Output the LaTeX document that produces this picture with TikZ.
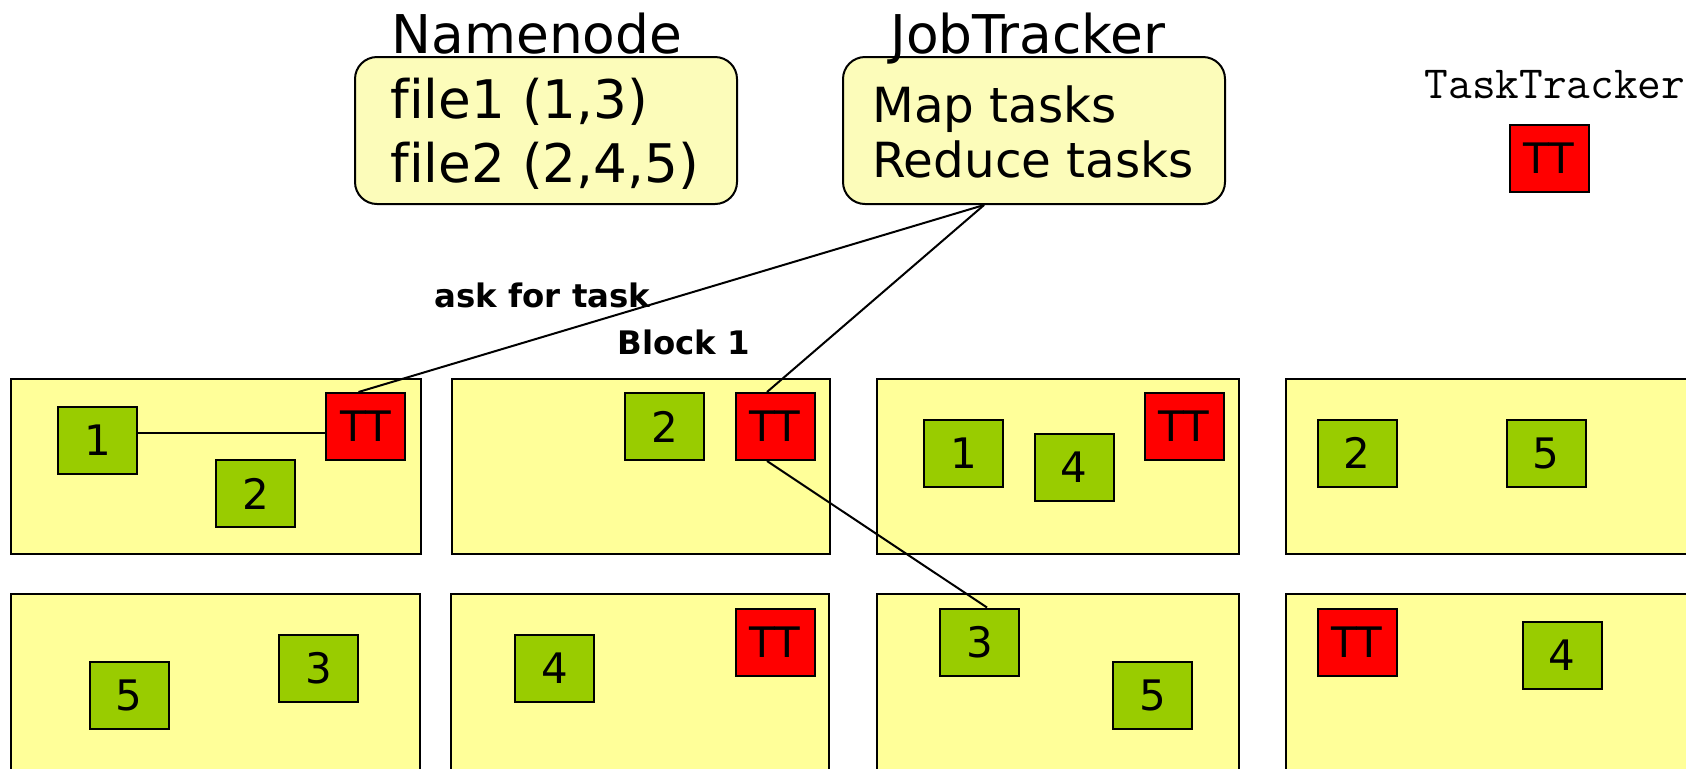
\documentclass[tikz,border=0pt]{standalone}
\usepackage{fontspec}
\setmainfont{DejaVu Sans}[Ligatures=NoCommon]
\usetikzlibrary{calc}
\definecolor{hostyellow}{HTML}{FFFF99}
\definecolor{infoyellow}{HTML}{FCFCBA}
\definecolor{blkgreen}{HTML}{99CC00}
\definecolor{ttred}{HTML}{FF0000}
\begin{document}
\begin{tikzpicture}[x=0.5pt,y=-0.5pt,
  host/.style={draw=black, line width=1pt, fill=hostyellow},
  blk/.style={draw=black, line width=1pt, fill=blkgreen, minimum width=39.5pt, minimum height=33.5pt, inner sep=0pt, font=\fontsize{21}{21}\selectfont},
  ttbox/.style={blk, fill=ttred},
  infobox/.style={draw=black, line width=1pt, fill=infoyellow, rounded corners=11pt, minimum width=191pt, minimum height=73.5pt, inner sep=0pt},
  title/.style={inner sep=0pt, anchor=base, font=\fontsize{26.7}{26.7}\selectfont},
  infotext/.style={inner sep=0pt, anchor=base west},
  boldlbl/.style={inner sep=0pt, anchor=base, font=\fontsize{16.2}{16.2}\selectfont\bfseries},
  conn/.style={line width=1pt}]
\useasboundingbox (0,0) rectangle (1686,768);
\clip (0,0) rectangle (1686,768);

% top info boxes
\node[infobox] (nn) at (546,130.5) {};
\node[infobox] (jt) at (1034,130.5) {};
\node[title] (nntitle) at (537,53) {Namenode};
\node[title] (jttitle) at (1028,53) {JobTracker};
\node[infotext, font=\fontsize{26.6}{26.6}\selectfont] (f1) at (390,118) {file1 (1,3)};
\node[infotext, font=\fontsize{26.6}{26.6}\selectfont] (f2) at (390,182) {file2 (2,4,5)};
\node[infotext, font=\fontsize{24.2}{24.2}\selectfont] (mt) at (872,122) {Map tasks};
\node[infotext, font=\fontsize{24.2}{24.2}\selectfont] (rt) at (872,177) {Reduce tasks};

% legend
\node[inner sep=0pt, anchor=base, font=\fontsize{23}{23}\selectfont\ttfamily] (ttlegend) at (1555,98) {TaskTracker};
\node[ttbox] (ttl) at (1549,158) {TT};

% hosts
\draw[host] (11,379) rectangle (421,554);
\draw[host] (452,379) rectangle (830,554);
\draw[host] (877,379) rectangle (1239,554);
\draw[host] (1286,379) rectangle (1700,554);
\draw[host] (11,594) rectangle (420,790);
\draw[host] (451,594) rectangle (829,790);
\draw[host] (877,594) rectangle (1239,790);
\draw[host] (1286,594) rectangle (1700,790);

% blocks row 1
\node[blk] (a1) at (97.5,440) {1};
\node[blk] (a2) at (255.5,493.5) {2};
\node[ttbox] (tta) at (365.5,426.5) {TT};
\node[blk] (b2) at (664.5,426.5) {2};
\node[ttbox] (ttb) at (775,426.5) {TT};
\node[blk] (c1) at (963.5,453) {1};
\node[blk] (c4) at (1074,467) {4};
\node[ttbox] (ttc) at (1184,426.5) {TT};
\node[blk] (d2) at (1357,453) {2};
\node[blk] (d5) at (1546,453) {5};
% blocks row 2
\node[blk] (e5) at (129,695) {5};
\node[blk] (e3) at (318.5,668.5) {3};
\node[blk] (f4) at (554.5,668.5) {4};
\node[ttbox] (ttf) at (775,642) {TT};
\node[blk] (g3) at (979.5,642) {3};
\node[blk] (g5) at (1152.5,695) {5};
\node[ttbox] (tth) at (1357,642) {TT};
\node[blk] (h4) at (1562,655) {4};

% labels
\node[boldlbl] (ask) at (542.5,307) {ask for task};
\node[boldlbl] (blk1) at (684,354) {Block 1};

% connectors
\coordinate (jtp) at ($(jt.south west)!0.37!(jt.south east)$);
\draw[conn] (jtp) -- ([xshift=-3.5pt]tta.north);
\draw[conn] (jtp) -- ([xshift=-4pt]ttb.north);
\draw[conn] ([xshift=-4pt]ttb.south) -- ([xshift=3.75pt]g3.north);
\draw[conn] ([yshift=3.5pt]a1.east) -- ([yshift=-3.25pt]tta.west);
\end{tikzpicture}
\end{document}
